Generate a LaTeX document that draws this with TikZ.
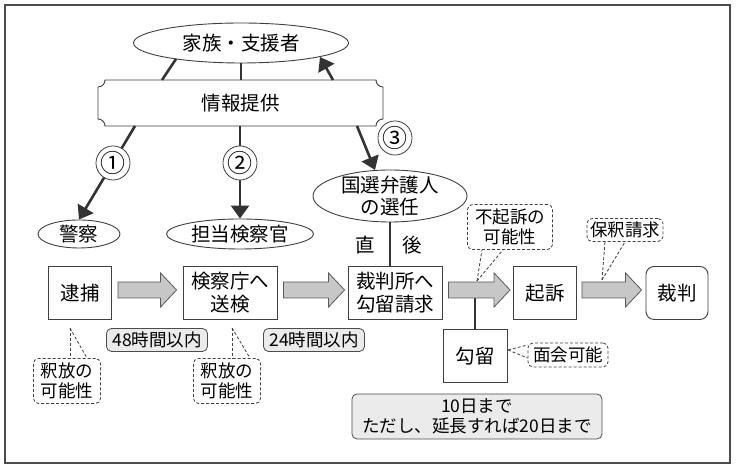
\documentclass[tikz,border=0pt]{standalone}
\usepackage{fontspec}
\setmainfont{Noto Sans CJK JP}
\usetikzlibrary{shapes.geometric,arrows.meta,calc}
\begin{document}
\begin{tikzpicture}[x=1pt,y=1pt,
  box/.style={draw=black!75, line width=0.9pt, fill=white, minimum height=53pt, align=center, font=\fontsize{19.5}{23}\selectfont, inner sep=2pt},
  oval/.style={ellipse, draw=black!75, line width=0.9pt, inner sep=0pt, fill=white},
  ovaltext/.style={font=\fontsize{19.5}{22}\selectfont, align=center, inner sep=0pt},
  plain/.style={font=\fontsize{19.5}{22}\selectfont, inner sep=0pt},
  note/.style={draw=black!75, dash pattern=on 3pt off 2pt, line width=0.8pt, rounded corners=5pt, fill=white, align=center, font=\fontsize{17.5}{20}\selectfont, inner sep=1pt},
  ptr/.style={draw=black!75, dash pattern=on 3pt off 2pt, line width=0.8pt},
  tag/.style={draw=black!70, line width=0.8pt, rounded corners=5pt, fill=black!8, font=\fontsize{17.5}{20}\selectfont, align=center, inner sep=1pt},
  garrow/.style={draw=black!65, fill=black!22, line width=0.8pt, line join=miter,
    to path={($(\tikztostart)+(0,8)$) -- ($(\tikztotarget)+(-16,8)$) -- ($(\tikztotarget)+(-16,17)$) -- (\tikztotarget) -- ($(\tikztotarget)+(-16,-17)$) -- ($(\tikztotarget)+(-16,-8)$) -- ($(\tikztostart)+(0,-8)$) -- cycle}},
  conn/.style={draw=black!80, line width=2.6pt},
  arr/.style={conn, -{Triangle[length=13pt,width=18pt]}},
  num/.style={circle, draw=black!75, line width=0.8pt, fill=white, minimum size=25pt, inner sep=0pt, font=\fontsize{25}{25}\selectfont},
]
\useasboundingbox (0,0) rectangle (740,470);
\fill[white] (0,0) rectangle (740,470);
\draw[black!70, line width=1.2pt] (5,7) rectangle (730,465);

% family ellipse
\node[oval, minimum width=215pt, minimum height=40pt] (family) at (241,427) {};
\node[ovaltext] (familyt) at (family) {家族・支援者};

% banner
\def\rr{7}
\draw[black!75, line width=0.9pt, fill=white]
  (98+\rr,390) -- (383-\rr,390) arc[start angle=180, end angle=270, radius=\rr]
  -- (383,344+\rr) arc[start angle=90, end angle=180, radius=\rr]
  -- (98+\rr,344) arc[start angle=0, end angle=90, radius=\rr]
  -- (98,390-\rr) arc[start angle=-90, end angle=0, radius=\rr] -- cycle;
\node[plain, minimum width=285pt, minimum height=46pt] (banner) at (240.5,367) {情報提供};

% family <-> banner
\coordinate (fL) at (176,411);
\coordinate (bL) at (162,390);
\draw[conn] (fL) -- (bL);
\draw[conn] (family.south) -- (family.south |- banner.north);
\coordinate (bR) at (333,390);
\coordinate (fR) at (320,413);
\draw[arr] (bR) -- (fR);

% ellipses of row 2
\node[oval, minimum width=82pt, minimum height=28pt] (police) at (79,236) {};
\node[ovaltext] (policet) at (police) {警察};
\node[oval, minimum width=147pt, minimum height=30pt] (pros) at (240,236) {};
\node[ovaltext] (prost) at (pros) {担当検察官};
\node[oval, minimum width=154pt, minimum height=52pt] (lawyer) at (390,274) {};
\node[ovaltext] (lawyert) at (lawyer) {国選弁護人\\の選任};

% banner -> targets
\coordinate (b1) at (135,344);
\draw[arr] (b1) -- (police.north);
\node[num] (c1) at (113,307) {①};
\draw[arr] (banner.south -| pros.north) -- (pros.north);
\node[num] (c2) at (240,307) {②};
\coordinate (b3) at (357,344);
\coordinate (l3) at (375,300);
\draw[arr] (b3) -- (l3);
\node[num, minimum size=27pt] (c3) at (395,332) {③};

% main boxes
\node[box, minimum width=63pt] (arrest) at (80,177) {逮捕};
\node[box, minimum width=94pt] (send) at (230,177) {検察庁へ\\送検};
\node[box, minimum width=94pt] (court) at (395,177) {裁判所へ\\勾留請求};
\node[box, minimum width=63pt] (indict) at (545,177) {起訴};
\node[box, minimum width=62pt, rounded corners=8pt] (trial) at (677,177) {裁判};
\node[box, minimum width=64pt] (kouryu) at (475,114) {勾留};

% lawyer -> court
\draw[conn] (lawyer.south) -- (lawyer.south |- court.north);
\node[plain] (choku) at (365,225) {直};
\node[plain] (go) at (412,225) {後};

% gray arrows
\coordinate (a1s) at ($(arrest.east)+(6,3)$);
\coordinate (a1e) at ($(send.west)+(-6,3)$);
\coordinate (a2s) at ($(send.east)+(6,3)$);
\coordinate (a2e) at ($(court.west)+(-3,3)$);
\coordinate (a3s) at ($(court.east)+(6,3)$);
\coordinate (a3e) at ($(indict.west)+(-3,3)$);
\coordinate (a4s) at ($(indict.east)+(5,3)$);
\coordinate (a4e) at ($(trial.west)+(-4,3)$);
\draw[line width=2.6pt, black!80] (kouryu.north) -- (kouryu.north |- a3s);
\path[garrow] (a1s) to (a1e);
\path[garrow] (a2s) to (a2e);
\path[garrow] (a3s) to (a3e);
\path[garrow] (a4s) to (a4e);

% time tags
\node[tag, minimum width=101pt, minimum height=23pt] (t48) at (157,130) {48時間以内};
\node[tag, minimum width=101pt, minimum height=23pt] (t24) at (314,130) {24時間以内};
\node[tag, minimum width=250pt, minimum height=45pt] (days) at (477,53.5) {10日まで\\ただし、延長すれば20日まで};

% callouts
\node[note, minimum width=67pt, minimum height=45pt] (rel1) at (67,89) {釈放の\\可能性};
\coordinate (p1) at (70,142);
\draw[ptr] (p1) -- (rel1.north -| p1);
\draw[ptr] (p1) -- ($(rel1.north)+(20,0)$);

\node[note, minimum width=67pt, minimum height=45pt] (rel2) at (227,89) {釈放の\\可能性};
\coordinate (p2) at (232,142);
\draw[ptr] (p2) -- (rel2.north -| p2);
\draw[ptr] (p2) -- ($(rel2.north)+(23,0)$);

\node[note, minimum width=85pt, minimum height=45pt] (fukiso) at (510,243) {不起訴の\\可能性};
\coordinate (p3) at (477,189);
\draw[ptr] (p3) -- ($(fukiso.south)+(-28,0)$);
\draw[ptr] (p3) -- ($(fukiso.south)+(-7,0)$);

\node[note, minimum width=76pt, minimum height=23pt] (hoshaku) at (625,240) {保釈請求};
\coordinate (p4) at (602,190);
\draw[ptr] (p4) -- ($(hoshaku.south)+(-20,0)$);
\draw[ptr] (p4) -- ($(hoshaku.south)+(0,0)$);

\node[note, minimum width=80pt, minimum height=24pt] (menkai) at (568,115) {面会可能};
\coordinate (p5) at (508,120);
\draw[ptr] (p5) -- ($(menkai.west)+(0,10)$);
\draw[ptr] (p5) -- ($(menkai.west)+(0,-3)$);
\end{tikzpicture}
\end{document}
